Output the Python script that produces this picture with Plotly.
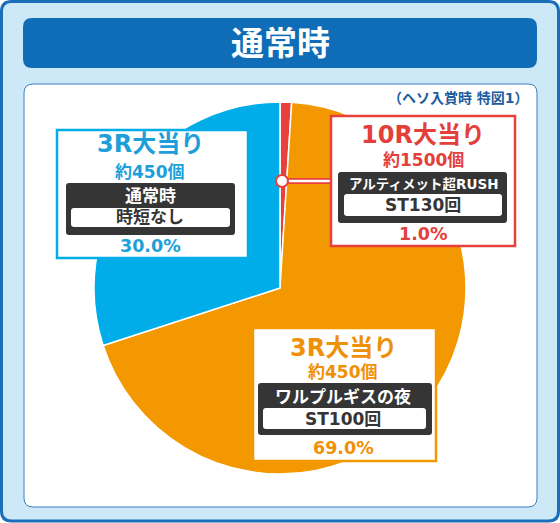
import plotly.graph_objects as go

# chart data
rounds = ["10R大当り", "3R大当り", "3R大当り"]
payouts = ["約1500個", "約450個", "約450個"]
modes = ["アルティメット超RUSH", "ワルプルギスの夜", "通常時"]
spins = ["ST130回", "ST100回", "時短なし"]
shares = [1.0, 69.0, 30.0]
title = "通常時"
subtitle = "（ヘソ入賞時 特図1）"

W, H = 560, 523
FONT = "DejaVu Sans, Noto Sans CJK JP"
slice_colors = ["#e8413c", "#f39800", "#00ade9"]
text_colors = ["#e3403b", "#ef9009", "#1e9fd9"]
DARK = "#353535"

# label box layout
boxes = [
    dict(box=(331, 116, 515, 246), cx=423, ry=135, py=160, dark=(338, 172, 507, 223),
         my=184, ms=13.5, inner=(344, 194, 502, 216), sy=205, pcy=234),
    dict(box=(253, 328, 436, 461), cx=343, ry=348, py=372, dark=(258, 383, 432, 435),
         my=397, ms=17, inner=(263, 408, 426, 429), sy=419, pcy=448),
    dict(box=(57, 130, 248, 258), cx=150, ry=144, py=172, dark=(66, 183, 235, 235),
         my=196, ms=17, inner=(71, 208, 230, 227), sy=217, pcy=246),
]


def rrect(x0, y0, x1, y1, r):
    return (f"M{x0+r},{y0} L{x1-r},{y0} Q{x1},{y0} {x1},{y0+r} L{x1},{y1-r} "
            f"Q{x1},{y1} {x1-r},{y1} L{x0+r},{y1} Q{x0},{y1} {x0},{y1-r} "
            f"L{x0},{y0+r} Q{x0},{y0} {x0+r},{y0} Z")


def label(x, y, txt, size, color, anchor="center"):
    return dict(x=x, y=y, text=txt, showarrow=False, xanchor=anchor, yanchor="middle",
                font=dict(family=FONT, size=size, color=color, weight="bold"))


shapes = []
annotations = []

# frame, title bar and white panel (under the pie)
shapes.append(dict(type="path", path=rrect(1.5, 1.5, 558.5, 521, 10), fillcolor="#cde9f8",
                   line=dict(color="#1b6fb9", width=3), layer="below"))
shapes.append(dict(type="path", path=rrect(23, 18, 537, 68, 9), fillcolor="#0f6cb6",
                   line=dict(width=0), layer="below"))
shapes.append(dict(type="path", path=rrect(24, 84, 537, 507, 9), fillcolor="white",
                   line=dict(color="#3f7fc2", width=1), layer="below"))

annotations.append(label(280, 43, title, 33, "white"))
annotations.append(label(531, 98, subtitle, 14, "#1d5d9e", anchor="right"))

# connector for the small slice
shapes.append(dict(type="line", x0=282, y0=181, x1=332, y1=181,
                   line=dict(color=slice_colors[0], width=6), layer="above"))
shapes.append(dict(type="line", x0=282, y0=181, x1=332, y1=181,
                   line=dict(color="white", width=2.5), layer="above"))
shapes.append(dict(type="circle", x0=276, y0=175, x1=288, y1=187, fillcolor="white",
                   line=dict(color=slice_colors[0], width=2), layer="above"))

for i, b in enumerate(boxes):
    x0, y0, x1, y1 = b["box"]
    col = text_colors[i]
    shapes.append(dict(type="rect", x0=x0, y0=y0, x1=x1, y1=y1, fillcolor="white",
                       line=dict(color=slice_colors[i], width=2.5), layer="above"))
    shapes.append(dict(type="path", path=rrect(*b["dark"], 3), fillcolor=DARK,
                       line=dict(width=0), layer="above"))
    shapes.append(dict(type="path", path=rrect(*b["inner"], 3), fillcolor="white",
                       line=dict(width=0), layer="above"))
    annotations.append(label(b["cx"], b["ry"], rounds[i], 24, col))
    annotations.append(label(b["cx"], b["py"], payouts[i], 17, col))
    annotations.append(label(b["cx"], b["my"], modes[i], b["ms"], "white"))
    annotations.append(label(b["cx"], b["sy"], spins[i], 17, DARK))
    annotations.append(label(b["cx"], b["pcy"], f"{shares[i]:.1f}%", 17.5, col))

cx, cy, r = 280, 288, 186
fig = go.Figure()
fig.add_trace(go.Scatter(x=[], y=[], showlegend=False, hoverinfo="skip"))
fig.add_trace(go.Pie(
    labels=modes, values=shares, sort=False, direction="clockwise", rotation=0,
    marker=dict(colors=slice_colors, line=dict(color="white", width=1.5)),
    textinfo="none", hoverinfo="none", showlegend=False,
    domain=dict(x=[(cx - r) / W, (cx + r) / W], y=[1 - (cy + r) / H, 1 - (cy - r) / H]),
))

fig.update_layout(
    width=W, height=H, margin=dict(l=0, r=0, t=0, b=0),
    paper_bgcolor="white", plot_bgcolor="rgba(0,0,0,0)",
    xaxis=dict(range=[0, W], visible=False, fixedrange=True),
    yaxis=dict(range=[H, 0], visible=False, fixedrange=True),
    shapes=shapes, annotations=annotations,
)

fig.write_html("out.html", config={"displayModeBar": False},
               post_script="document.body.style.margin='0';")
